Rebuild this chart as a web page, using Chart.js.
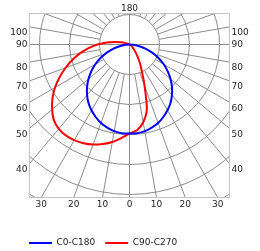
<!DOCTYPE html>
<html>
<head>
<meta charset="utf-8">
<script src="https://cdn.jsdelivr.net/npm/chart.js@4/dist/chart.umd.min.js"></script>
<style>
html, body { margin: 0; padding: 0; background: #fff; }
</style>
</head>
<body>
<canvas id="ldc" width="260" height="251"></canvas>
<script>
// angle from nadir (deg) and intensity
var gammaDeg = [0,5,10,15,20,25,30,35,40,45,50,55,60,65,70,75,80,85,90,95,100,105,110,115,120];
var c0   = [89,89,88,86,83.5,80,76,71.5,66,60,53.5,46.5,39.5,32,24.5,17,10,4,0,0,0,0,0,0,0];
var c180 = [89,89,88,86,83.5,80,76,71.5,66,60,53.5,46.5,39.5,32,24.5,17,10,4,0,0,0,0,0,0,0];
var c90  = [89,86,79,67,44,29,20,13,8,5,3,1.5,0.5,0,0,0,0,0,0,0,0,0,0,0,0];
var c270 = [89,94,99,103,106.5,109,110.5,111,110,107,101,94,86,77,68,59,50,41,32,23,15,9,4,1,0];

var seriesNames = ['C0-C180', 'C90-C270'];
var sideTicks = [100, 90, 80, 70, 60, 50, 40];
var bottomTicks = [-30, -20, -10, 0, 10, 20, 30];
var topTick = 180;
var rings = [30, 60, 90, 120, 150, 180];

// visible window of the diagram (data units)
var frame = {left: -100, right: 100, top: 31, bottom: -153};

function half(vals, sign) {
  var last = vals.length - 1;
  while (last > 0 && vals[last - 1] === 0) last--;
  var out = [];
  for (var i = 0; i <= last; i++) {
    var g = gammaDeg[i] * Math.PI / 180;
    out.push({x: sign * vals[i] * Math.sin(g), y: -vals[i] * Math.cos(g)});
  }
  return out;
}
function curve(right, left) {
  return half(right, 1).reverse().concat(half(left, -1).slice(1));
}

const polarGrid = {
  id: 'polarGrid',
  beforeDatasetsDraw(chart) {
    const {ctx, scales: {x, y}} = chart;
    const cx = x.getPixelForValue(0), cy = y.getPixelForValue(0);
    const unit = x.getPixelForValue(1) - cx;
    const L = x.getPixelForValue(frame.left), R = x.getPixelForValue(frame.right);
    const T = y.getPixelForValue(frame.top), B = y.getPixelForValue(frame.bottom);

    ctx.save();
    ctx.beginPath();
    ctx.rect(L, T, R - L, B - T);
    ctx.clip();
    ctx.strokeStyle = '#8c8c8c';
    ctx.lineWidth = 1;
    rings.forEach(function (r) {
      ctx.beginPath();
      ctx.arc(cx, cy, r * unit, 0, Math.PI * 2);
      ctx.stroke();
    });
    for (var a = 0; a < 360; a += 10) {
      var rad = a * Math.PI / 180;
      var r0 = (a % 90 === 0) ? 0 : rings[0];
      ctx.beginPath();
      ctx.moveTo(cx + Math.sin(rad) * r0 * unit, cy + Math.cos(rad) * r0 * unit);
      ctx.lineTo(cx + Math.sin(rad) * 400 * unit, cy + Math.cos(rad) * 400 * unit);
      ctx.stroke();
    }
    ctx.restore();

    ctx.save();
    ctx.strokeStyle = '#c4c4c4';
    ctx.strokeRect(L, T, R - L, B - T);

    ctx.fillStyle = '#1e1e1e';
    ctx.font = '9px "DejaVu Sans"';
    ctx.textBaseline = 'middle';
    sideTicks.forEach(function (a) {
      var rad = a * Math.PI / 180;
      var yv = -(-frame.left) * Math.cos(rad) / Math.sin(rad);
      var py = y.getPixelForValue(yv) + (a === 90 ? 0 : 6);
      ctx.textAlign = 'right';
      ctx.fillText(String(a), L - 2, py);
      ctx.textAlign = 'left';
      ctx.fillText(String(a), R + 2, py);
    });
    ctx.textAlign = 'center';
    bottomTicks.forEach(function (a) {
      var xv = -frame.bottom * Math.tan(a * Math.PI / 180);
      ctx.fillText(String(Math.abs(a)), x.getPixelForValue(xv), B + 7);
    });
    ctx.fillText(String(topTick), cx, T - 5);
    ctx.restore();
  }
};

new Chart(document.getElementById('ldc'), {
  type: 'scatter',
  data: {
    datasets: [
      {
        label: seriesNames[0],
        data: curve(c0, c180),
        borderColor: '#0000ff',
        backgroundColor: '#0000ff',
        borderWidth: 2,
        showLine: true,
        pointRadius: 0,
        tension: 0.25
      },
      {
        label: seriesNames[1],
        data: curve(c90, c270),
        borderColor: '#ff0000',
        backgroundColor: '#ff0000',
        borderWidth: 2,
        showLine: true,
        pointRadius: 0,
        tension: 0.25
      }
    ]
  },
  options: {
    responsive: false,
    animation: false,
    devicePixelRatio: 1,
    layout: {padding: {left: 19, right: 21, top: 13, bottom: -6.5}},
    scales: {
      x: {type: 'linear', min: -110.5, max: 109.5, display: false},
      y: {type: 'linear', min: -184, max: 31.5, display: false}
    },
    plugins: {
      legend: {
        position: 'bottom',
        align: 'start',
        labels: {
          usePointStyle: true,
          pointStyle: 'line',
          pointStyleWidth: 23,
          padding: 10,
          color: '#1e1e1e',
          font: {family: 'DejaVu Sans', size: 9}
        }
      },
      tooltip: {enabled: false}
    }
  },
  plugins: [polarGrid]
});
</script>
</body>
</html>
